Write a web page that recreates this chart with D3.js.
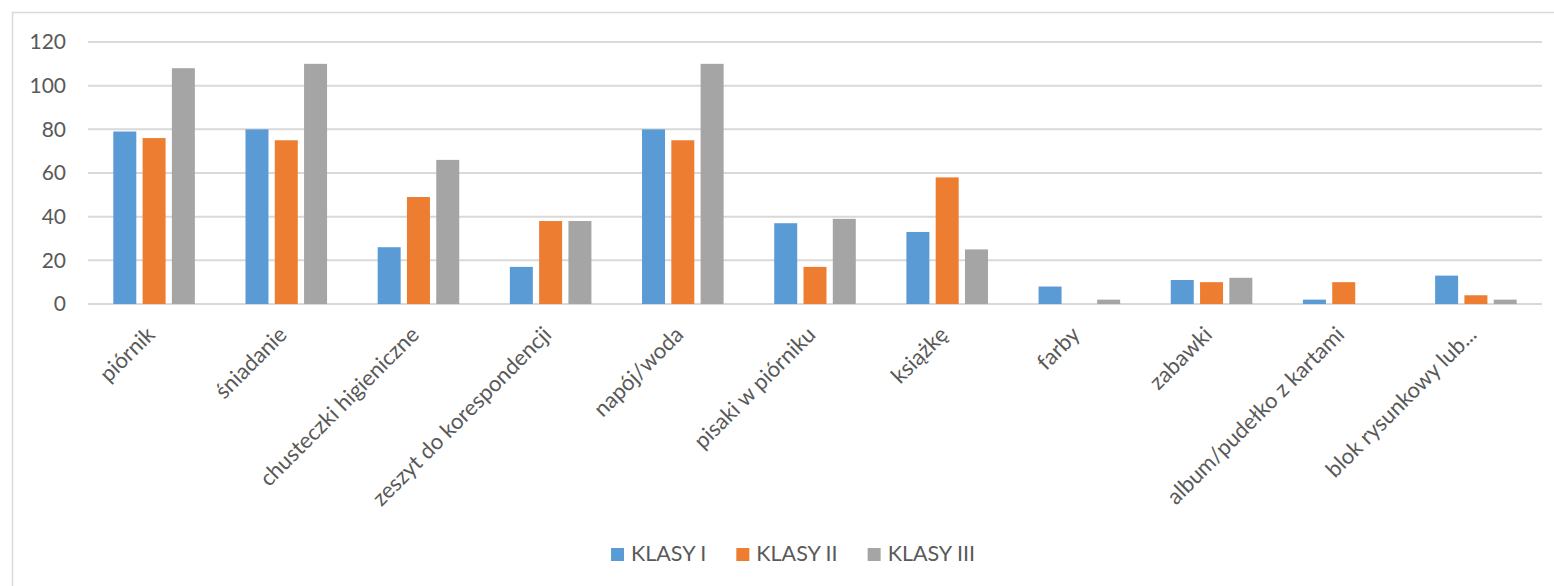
<!DOCTYPE html>
<html>
<head>
<meta charset="utf-8">
<script src="https://cdn.jsdelivr.net/npm/d3@7"></script>
<style>
  body { margin: 0; background: #fff; }
  text { font-family: Lato, "Open Sans", sans-serif; fill: #595959; }
</style>
</head>
<body>
<svg id="chart" width="1554" height="586"></svg>
<script>
// categories and values
var categories = ["piórnik", "śniadanie", "chusteczki higieniczne", "zeszyt do korespondencji",
  "napój/woda", "pisaki w piórniku", "książkę", "farby", "zabawki",
  "album/pudełko z kartami", "blok rysunkowy lub..."];
var series = ["KLASY I", "KLASY II", "KLASY III"];
var klasy1 = [79, 80, 26, 17, 80, 37, 33, 8, 11, 2, 13];
var klasy2 = [76, 75, 49, 38, 75, 17, 58, 0, 10, 10, 4];
var klasy3 = [108, 110, 66, 38, 110, 39, 25, 2, 12, 0, 2];
var yTicks = [0, 20, 40, 60, 80, 100, 120];
var colors = ["#5B9BD5", "#ED7D31", "#A5A5A5"];

var values = [klasy1, klasy2, klasy3];

var svg = d3.select("#chart");

// outer chart frame (right and bottom edge fall outside the picture)
svg.append("rect")
  .attr("x", 12.5).attr("y", 12.5)
  .attr("width", 1600).attr("height", 640)
  .attr("fill", "none")
  .attr("stroke", "#D9D9D9")
  .attr("stroke-width", 1.5);

var x0 = d3.scaleBand().domain(categories).range([88, 1542]);
var x1 = d3.scaleBand().domain(series).range([0, x0.bandwidth()])
  .paddingInner(0.215).paddingOuter(0.864);
var y = d3.scaleLinear().domain([0, 120]).range([304, 42]);

//gridlines
svg.append("g").selectAll("line")
  .data(yTicks)
  .enter().append("line")
  .attr("x1", 88).attr("x2", 1542)
  .attr("y1", function(d){ return y(d); })
  .attr("y2", function(d){ return y(d); })
  .attr("stroke", "#D9D9D9")
  .attr("stroke-width", 2);

// y axis labels
var yAxis = d3.axisLeft(y).tickValues(yTicks).tickSize(0).tickPadding(0);
var gy = svg.append("g").attr("transform", "translate(66,0)").call(yAxis);
gy.select(".domain").remove();
gy.selectAll("text")
  .attr("font-size", 21)
  .attr("font-family", null)
  .attr("fill", "#595959");

// bars
var groups = svg.append("g").selectAll("g")
  .data(categories)
  .enter().append("g")
  .attr("transform", function(d){ return "translate(" + x0(d) + ",0)"; });

groups.selectAll("rect")
  .data(function(d, i){
    return series.map(function(s, j){ return {s: s, v: values[j][i], c: colors[j]}; });
  })
  .enter().append("rect")
  .attr("x", function(d){ return x1(d.s); })
  .attr("width", x1.bandwidth())
  .attr("y", function(d){ return y(d.v); })
  .attr("height", function(d){ return y(0) - y(d.v); })
  .attr("fill", function(d){ return d.c; });

// category labels, rotated
svg.append("g").selectAll("text")
  .data(categories)
  .enter().append("text")
  .attr("transform", function(d){
    var cx = x0(d) + x0.bandwidth() / 2 + 2;
    return "translate(" + cx + ",336) rotate(-45)";
  })
  .attr("text-anchor", "end")
  .attr("font-size", 22)
  .text(function(d){ return d; });

// legend
var legend = svg.append("g");
var items = legend.selectAll("g")
  .data(series)
  .enter().append("g");
items.append("rect")
  .attr("width", 13).attr("height", 13)
  .attr("y", 548)
  .attr("fill", function(d, i){ return colors[i]; });
items.append("text")
  .attr("x", 20).attr("y", 561)
  .attr("font-size", 21.5)
  .text(function(d){ return d; });

var pos = 0;
var widths = [];
items.each(function(){
  widths.push(d3.select(this).select("text").node().getComputedTextLength());
});
var total = d3.sum(widths) + series.length * 20 + (series.length - 1) * 30;
var start = 793 - total / 2;
items.attr("transform", function(d, i){
  var t = "translate(" + (start + pos) + ",0)";
  pos += 20 + widths[i] + 30;
  return t;
});
</script>
</body>
</html>
